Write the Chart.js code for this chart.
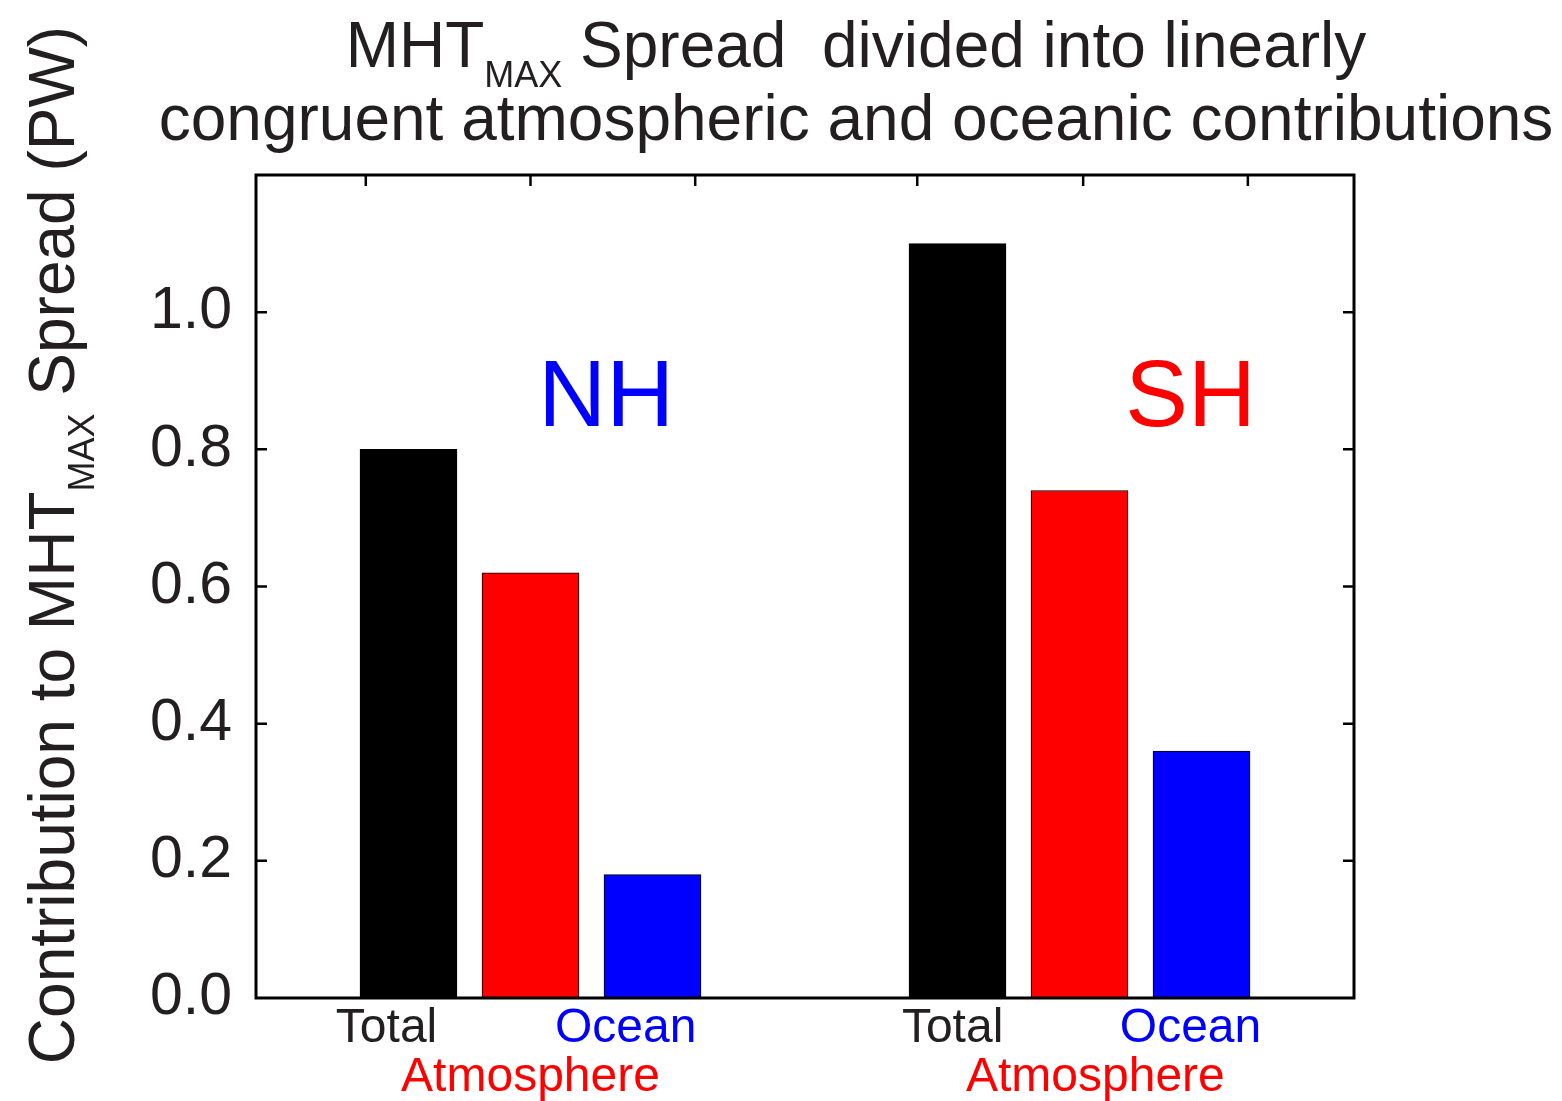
<!DOCTYPE html>
<html lang="en">
<head>
  <meta charset="UTF-8">
  <title>MHT max spread contributions</title>
  <script src="https://cdn.jsdelivr.net/npm/chart.js"></script>
  <style>
    html, body { margin: 0; padding: 0; background: #fff; }
    canvas { display: block; }
  </style>
</head>
<body>
  <canvas id="chart" width="1562" height="1101"></canvas>
  <script>
    // data (PW)
    const regions = ['NH', 'SH'];
    const components = ['Total', 'Atmosphere', 'Ocean'];
    const totalVals = [0.80, 1.10];
    const atmosVals = [0.62, 0.74];
    const oceanVals = [0.18, 0.36];
    // x positions of the bars on the linear axis (0..9)
    const totalX = [1.25, 5.75];
    const atmosX = [2.25, 6.75];
    const oceanX = [3.25, 7.75];
    // bottom labels and where they sit on the axis
    const xLabelPos = [1.07, 2.25, 3.03, 5.71, 6.88, 7.66];
    const xLabelText = [['Total'], ['', 'Atmosphere'], ['Ocean'], ['Total'], ['', 'Atmosphere'], ['Ocean']];
    const xLabelColor = ['#231f20', '#ff0000', '#0000ff', '#231f20', '#ff0000', '#0000ff'];
    // top axis tick marks
    const topTicks = [0.9, 2.25, 3.6, 5.42, 6.78, 8.13];
    const yTicks = [0, 0.2, 0.4, 0.6, 0.8, 1.0];

    const colors = { Total: '#000000', Atmosphere: '#ff0000', Ocean: '#0000ff' };
    const FONT = '"Liberation Sans", Arial, Helvetica, sans-serif';
    const INK = '#231f20';

    function pts(xs, ys) { return xs.map((x, i) => ({ x: x, y: ys[i] })); }

    function drawSub(ctx, parts, x, y, align) {
      // parts: [text, size, dy]
      let w = 0;
      parts.forEach(p => { ctx.font = p[1] + 'px ' + FONT; w += ctx.measureText(p[0]).width; });
      let cx = align === 'center' ? x - w / 2 : x;
      ctx.textAlign = 'left';
      ctx.textBaseline = 'alphabetic';
      parts.forEach(p => {
        ctx.font = p[1] + 'px ' + FONT;
        ctx.fillText(p[0], cx, y + p[2]);
        cx += ctx.measureText(p[0]).width;
      });
    }

    const decor = {
      id: 'decor',
      afterDraw(chart) {
        const { ctx, chartArea: a, scales } = chart;
        const xs = scales.x, ys = scales.y;
        ctx.save();
        // axes box
        ctx.strokeStyle = '#000';
        ctx.lineWidth = 3;
        ctx.strokeRect(a.left, a.top, a.right - a.left, a.bottom - a.top);
        // inward ticks
        ctx.lineWidth = 2.5;
        ctx.beginPath();
        yTicks.slice(1).forEach(v => {
          const py = ys.getPixelForValue(v);
          ctx.moveTo(a.left, py); ctx.lineTo(a.left + 11, py);
          ctx.moveTo(a.right, py); ctx.lineTo(a.right - 11, py);
        });
        topTicks.forEach(v => {
          const px = xs.getPixelForValue(v);
          ctx.moveTo(px, a.top); ctx.lineTo(px, a.top + 11);
        });
        ctx.stroke();

        // region annotations
        ctx.font = '94px ' + FONT;
        ctx.textAlign = 'center';
        ctx.textBaseline = 'alphabetic';
        ctx.fillStyle = '#0000ff';
        ctx.fillText(regions[0], xs.getPixelForValue(2.87), ys.getPixelForValue(0.834));
        ctx.fillStyle = '#ff0000';
        ctx.fillText(regions[1], xs.getPixelForValue(7.66), ys.getPixelForValue(0.834));

        // title
        ctx.fillStyle = INK;
        drawSub(ctx, [['MHT', 64, 0], ['MAX', 36, 20], [' Spread  divided into linearly', 64, 0]], 856, 67, 'center');
        drawSub(ctx, [['congruent atmospheric and oceanic contributions', 64, 0]], 856, 140, 'center');

        // y axis title
        ctx.translate(74, 545);
        ctx.rotate(-Math.PI / 2);
        drawSub(ctx, [['Contribution to MHT', 64, 0], ['MAX', 36, 20], [' Spread (PW)', 64, 0]], 0, 0, 'center');
        ctx.restore();
      }
    };

    new Chart(document.getElementById('chart'), {
      type: 'bar',
      data: {
        datasets: [
          { label: components[0], data: pts(totalX, totalVals), backgroundColor: colors.Total },
          { label: components[1], data: pts(atmosX, atmosVals), backgroundColor: colors.Atmosphere },
          { label: components[2], data: pts(oceanX, oceanVals), backgroundColor: colors.Ocean }
        ]
      },
      options: {
        responsive: false,
        animation: false,
        grouped: false,
        barThickness: 97,
        borderWidth: 1,
        borderColor: '#000',
        borderSkipped: false,
        layout: { padding: { left: 0, top: 175, right: 208, bottom: 0 } },
        plugins: { legend: { display: false }, tooltip: { enabled: false }, title: { display: false } },
        scales: {
          x: {
            type: 'linear',
            min: 0, max: 9,
            offset: false,
            grid: { display: false, offset: false, drawTicks: false },
            border: { display: false },
            afterBuildTicks: s => { s.ticks = xLabelPos.map(v => ({ value: v })); },
            afterFit: s => { s.height = 103; },
            ticks: {
              autoSkip: false,
              maxRotation: 0,
              padding: 6,
              font: { family: FONT, size: 48, lineHeight: 1.02 },
              color: c => xLabelColor[c.index],
              callback: (v, i) => xLabelText[i]
            }
          },
          y: {
            min: 0, max: 1.2,
            grid: { display: false, drawTicks: false },
            border: { display: false },
            afterBuildTicks: s => { s.ticks = yTicks.map(v => ({ value: v })); },
            afterFit: s => { s.width = 256; },
            ticks: {
              padding: 24,
              color: INK,
              font: { family: FONT, size: 59 },
              callback: v => v.toFixed(1)
            }
          }
        }
      },
      plugins: [decor]
    });
  </script>
</body>
</html>
